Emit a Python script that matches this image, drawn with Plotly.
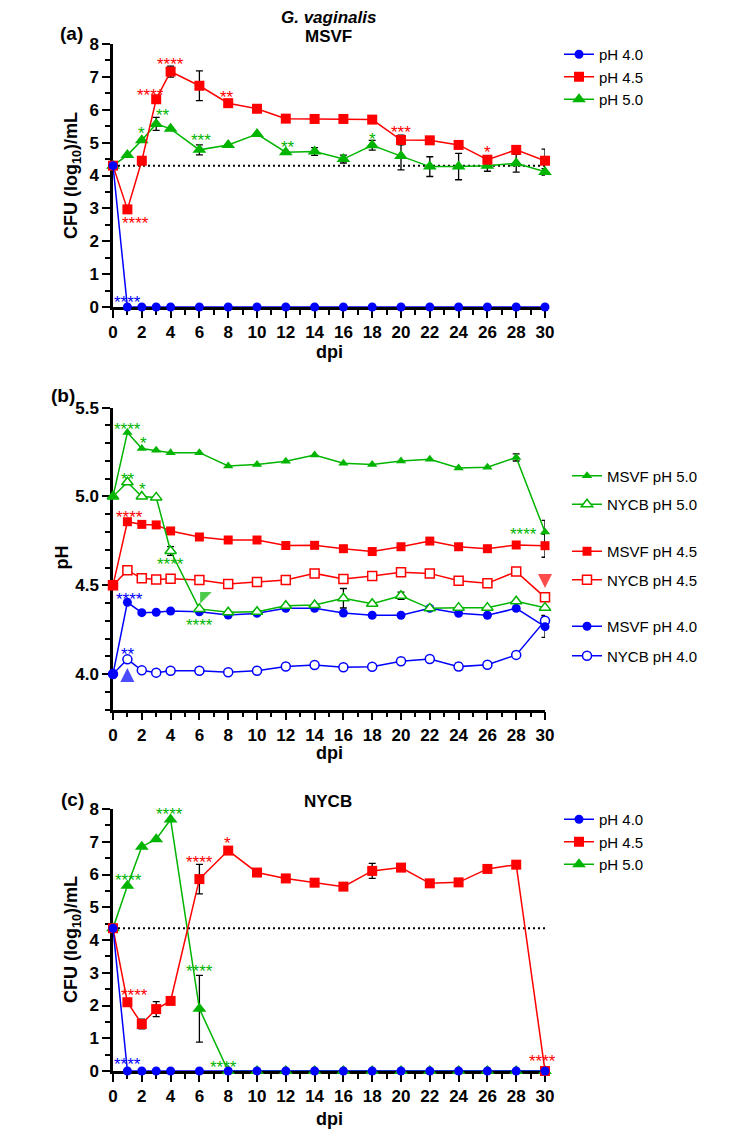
import plotly.graph_objects as go

FONT = "Liberation Sans, Arial, Helvetica, sans-serif"
BLUE = "#0000FF"
RED = "#FF0000"
GREEN = "#00B400"
# the page body has an 8px margin, so the figure is drawn 8px in from the corner
OFF = 8
W, H = 744 - 2 * OFF, 1132 - OFF

# ---------------- data ----------------
days = [0, 1, 2, 3, 4, 6, 8, 10, 12, 14, 16, 18, 20, 22, 24, 26, 28, 30]
x_ticks = list(range(0, 31, 2))

# (a) MSVF, CFU (log10)/mL
a_ph40 = [4.30, 0, 0, 0, 0, 0, 0, 0, 0, 0, 0, 0, 0, 0, 0, 0, 0, 0]
a_ph45 = [4.30, 2.97, 4.45, 6.32, 7.16, 6.73, 6.20, 6.03, 5.73, 5.72, 5.72, 5.70, 5.08, 5.07, 4.93, 4.48, 4.78, 4.45]
a_ph50 = [4.30, 4.62, 5.07, 5.57, 5.42, 4.78, 4.93, 5.26, 4.71, 4.73, 4.50, 4.92, 4.59, 4.27, 4.27, 4.30, 4.37, 4.11]
a_err45 = [0, 0, 0, 0, 0.17, 0.45, 0, 0, 0.08, 0, 0, 0, 0.15, 0, 0, 0, 0.12, 0.35]
a_err50 = [0, 0, 0, 0.20, 0, 0.15, 0, 0, 0, 0.12, 0.12, 0.15, 0.42, 0.30, 0.40, 0.17, 0.27, 0.10]
a_lod = 4.30
a_star_x = [1.02, 1.56, 2.57, 3.96, 7.94, 20.0, 26.0, 2.0, 3.45, 6.09, 12.17, 18.03]
a_star_y = [0.26, 2.67, 6.55, 7.51, 6.50, 5.44, 4.81, 5.39, 5.94, 5.20, 4.98, 5.23]
a_star_t = ["****", "****", "****", "****", "**", "***", "*", "*", "**", "***", "**", "*"]
a_star_c = [BLUE, RED, RED, RED, RED, RED, RED, GREEN, GREEN, GREEN, GREEN, GREEN]

# (b) pH
b_msvf50 = [5.00, 5.36, 5.27, 5.26, 5.247, 5.247, 5.172, 5.18, 5.198, 5.234, 5.187, 5.18, 5.20, 5.21, 5.16, 5.165, 5.22, 4.80]
b_nycb50 = [5.00, 5.08, 5.00, 4.995, 4.693, 4.367, 4.348, 4.351, 4.385, 4.389, 4.427, 4.396, 4.441, 4.37, 4.374, 4.374, 4.41, 4.374]
b_msvf45 = [4.50, 4.858, 4.843, 4.84, 4.806, 4.772, 4.755, 4.755, 4.724, 4.725, 4.706, 4.69, 4.717, 4.749, 4.717, 4.706, 4.727, 4.723]
b_nycb45 = [4.50, 4.584, 4.539, 4.532, 4.537, 4.53, 4.507, 4.518, 4.53, 4.567, 4.535, 4.552, 4.573, 4.567, 4.526, 4.511, 4.577, 4.432]
b_msvf40 = [4.00, 4.404, 4.346, 4.348, 4.355, 4.351, 4.333, 4.342, 4.37, 4.37, 4.344, 4.331, 4.331, 4.37, 4.342, 4.331, 4.37, 4.267]
b_nycb40 = [4.00, 4.083, 4.021, 4.008, 4.019, 4.019, 4.01, 4.019, 4.043, 4.051, 4.038, 4.041, 4.072, 4.085, 4.042, 4.053, 4.108, 4.301]
b_err_msvf50 = [0, 0, 0, 0, 0, 0, 0, 0, 0, 0, 0, 0, 0, 0, 0, 0, 0.02, 0.065]
b_err_nycb50 = [0, 0, 0, 0, 0.025, 0, 0, 0, 0, 0, 0.055, 0, 0.02, 0, 0, 0, 0, 0]
b_err_msvf45 = [0, 0, 0, 0, 0, 0, 0, 0, 0, 0, 0, 0, 0, 0, 0, 0, 0, 0.065]
b_err_nycb45 = [0, 0, 0, 0, 0, 0, 0, 0, 0, 0, 0, 0, 0, 0, 0, 0, 0, 0.02]
b_err_msvf40 = [0, 0, 0, 0, 0, 0, 0, 0, 0, 0, 0, 0, 0, 0, 0, 0, 0, 0.06]
b_err_nycb40 = [0, 0, 0, 0, 0, 0, 0, 0, 0, 0, 0, 0, 0, 0, 0.02, 0.015, 0, 0.03]
b_star_x = [1.0, 2.12, 1.06, 2.06, 1.18, 4.0, 6.04, 1.18, 1.02, 28.5]
b_star_y = [5.397, 5.322, 5.12, 5.06, 4.905, 4.638, 4.295, 4.445, 4.131, 4.811]
b_star_t = ["****", "*", "**", "*", "****", "****", "****", "****", "**", "****"]
b_star_c = [GREEN, GREEN, GREEN, GREEN, RED, GREEN, GREEN, BLUE, BLUE, GREEN]
b_arrow_x = [1.0, 6.32, 30.0]
b_arrow_y = [4.034, 4.44, 4.485]
b_arrow_sym = ["arrow-up", "triangle-nw", "arrow-down"]
b_arrow_size = [14, 13, 14]
b_arrow_c = [BLUE, GREEN, RED]

# (c) NYCB, CFU (log10)/mL
c_ph40 = [4.36, 0, 0, 0, 0, 0, 0, 0, 0, 0, 0, 0, 0, 0, 0, 0, 0, 0]
c_ph45 = [4.36, 2.10, 1.435, 1.89, 2.14, 5.86, 6.73, 6.06, 5.88, 5.75, 5.63, 6.11, 6.21, 5.73, 5.76, 6.17, 6.30, 0.0]
c_ph50 = [4.36, 5.66, 6.85, 7.08, 7.68, 1.90, 0, 0, 0, 0, 0, 0, 0, 0, 0, 0, 0, 0]
c_err45 = [0, 0, 0.15, 0.23, 0, 0.45, 0.08, 0, 0.10, 0, 0, 0.23, 0, 0, 0, 0, 0, 0]
c_err50 = [0, 0, 0, 0, 0, 1.02, 0, 0, 0, 0, 0, 0, 0, 0, 0, 0, 0, 0]
c_lod = 4.36
c_star_x = [1.07, 3.9, 7.94, 6.02, 1.48, 6.02, 1.02, 7.69, 29.85]
c_star_y = [5.93, 7.94, 7.07, 6.49, 2.42, 3.15, 0.31, 0.23, 0.41]
c_star_t = ["****", "****", "*", "****", "****", "****", "****", "****", "****"]
c_star_c = [GREEN, GREEN, RED, RED, RED, GREEN, BLUE, GREEN, RED]

# ---------------- helpers ----------------
def px_x(p):
    return (p - OFF) / W

def px_y(p):
    return 1 - (p - OFF) / H

fig = go.Figure()

def add_err(xa, ya, x, y, err):
    idx = [i for i, e in enumerate(err) if e > 0]
    if not idx:
        return
    fig.add_trace(go.Scatter(
        x=[x[i] for i in idx], y=[y[i] for i in idx], mode="markers",
        marker=dict(size=1, color="rgba(0,0,0,0)"),
        error_y=dict(type="data", array=[err[i] for i in idx], color="black",
                     thickness=1.3, width=3.5),
        xaxis=xa, yaxis=ya, showlegend=False, hoverinfo="skip", cliponaxis=False))

def add_series(xa, ya, x, y, name, color, symbol, size, legend, filled=True, rank=1000, group=None):
    marker = dict(symbol=symbol, size=size,
                  color=color if filled else "white",
                  line=dict(color=color, width=0 if filled else 1.5))
    fig.add_trace(go.Scatter(
        x=x, y=y, mode="lines+markers", name=name,
        line=dict(color=color, width=1.5), marker=marker,
        xaxis=xa, yaxis=ya, legend=legend, legendrank=rank,
        legendgroup=group, cliponaxis=False))

def add_lod(xa, ya, lod):
    fig.add_trace(go.Scatter(
        x=[days[0], days[-1]], y=[lod, lod], mode="lines",
        line=dict(color="black", width=2, dash="2px,3px"),
        xaxis=xa, yaxis=ya, showlegend=False, hoverinfo="skip"))

# ---------------- panel (a) ----------------
add_lod("x", "y", a_lod)
add_err("x", "y", days, a_ph50, a_err50)
add_err("x", "y", days, a_ph45, a_err45)
add_series("x", "y", days, a_ph50, "pH 5.0", GREEN, "triangle-up", 12, "legend", rank=3)
add_series("x", "y", days, a_ph45, "pH 4.5", RED, "square", 10, "legend", rank=2)
add_series("x", "y", days, a_ph40, "pH 4.0", BLUE, "circle", 9, "legend", rank=1)

# ---------------- panel (b) ----------------
add_err("x2", "y2", days, b_msvf50, b_err_msvf50)
add_err("x2", "y2", days, b_nycb50, b_err_nycb50)
add_err("x2", "y2", days, b_msvf45, b_err_msvf45)
add_err("x2", "y2", days, b_nycb45, b_err_nycb45)
add_err("x2", "y2", days, b_msvf40, b_err_msvf40)
add_err("x2", "y2", days, b_nycb40, b_err_nycb40)
add_series("x2", "y2", days, b_nycb40, "NYCB pH 4.0", BLUE, "circle", 9, "legend4", filled=False, rank=2, group="b6")
add_series("x2", "y2", days, b_msvf40, "MSVF pH 4.0", BLUE, "circle", 9, "legend4", rank=1, group="b5")
add_series("x2", "y2", days, b_nycb45, "NYCB pH 4.5", RED, "square", 9, "legend3", filled=False, rank=2, group="b4")
add_series("x2", "y2", days, b_msvf45, "MSVF pH 4.5", RED, "square", 9, "legend3", rank=1, group="b3")
add_series("x2", "y2", days, b_nycb50, "NYCB pH 5.0", GREEN, "triangle-up", 10, "legend2", filled=False, rank=2, group="b2")
add_series("x2", "y2", days, b_msvf50, "MSVF pH 5.0", GREEN, "triangle-up", 9, "legend2", rank=1, group="b1")
fig.add_trace(go.Scatter(
    x=b_arrow_x, y=b_arrow_y, mode="markers",
    marker=dict(symbol=b_arrow_sym, size=b_arrow_size, color=b_arrow_c,
                line=dict(width=0)),
    xaxis="x2", yaxis="y2", showlegend=False, hoverinfo="skip", cliponaxis=False))

# ---------------- panel (c) ----------------
add_lod("x3", "y3", c_lod)
add_err("x3", "y3", days, c_ph50, c_err50)
add_err("x3", "y3", days, c_ph45, c_err45)
add_series("x3", "y3", days, c_ph50, "pH 5.0", GREEN, "triangle-up", 12, "legend5", rank=3)
add_series("x3", "y3", days, c_ph45, "pH 4.5", RED, "square", 10, "legend5", rank=2)
add_series("x3", "y3", days, c_ph40, "pH 4.0", BLUE, "circle", 9, "legend5", rank=1)

# ---------------- annotations ----------------
ann = []

def stars(xref, yref, xs, ys, ts, cs):
    for x, y, t, c in zip(xs, ys, ts, cs):
        ann.append(dict(x=x, y=y, xref=xref, yref=yref, text=t, showarrow=False,
                        xanchor="center", yanchor="middle", yshift=-4,
                        font=dict(family=FONT, size=17, color=c)))

stars("x", "y", a_star_x, a_star_y, a_star_t, a_star_c)
stars("x2", "y2", b_star_x, b_star_y, b_star_t, b_star_c)
stars("x3", "y3", c_star_x, c_star_y, c_star_t, c_star_c)

def label(text, xp, yp, size, angle=0, italic=False):
    ann.append(dict(x=px_x(xp), y=px_y(yp), xref="paper", yref="paper", text=text,
                    showarrow=False, xanchor="center", yanchor="middle", textangle=angle,
                    font=dict(family=FONT, size=size, color="black", weight="bold",
                              style="italic" if italic else "normal")))

label("(a)", 71.7, 33.3, 19)
label("(b)", 62.5, 395.5, 19)
label("(c)", 72.5, 799.5, 19)
label("G. vaginalis", 328, 17, 17, italic=True)
label("MSVF", 328, 36, 17)
label("NYCB", 327.5, 801.7, 17)
label("CFU (log<sub>10</sub>)/mL", 73, 176, 18, angle=-90)
label("pH", 61.5, 558, 18, angle=-90)
label("CFU (log<sub>10</sub>)/mL", 72, 940, 18, angle=-90)
label("dpi", 329, 352, 18)
label("dpi", 329, 753, 18)
label("dpi", 329, 1119, 18)

# ---------------- axes ----------------
tickfont = dict(family=FONT, size=17, color="black", weight="bold")
common = dict(showline=True, linecolor="black", linewidth=2.5, ticks="outside",
              ticklen=8, tickwidth=2, tickcolor="black", showgrid=False,
              zeroline=False, tickfont=tickfont, layer="below traces", fixedrange=True,
              automargin=False)
xdom = [px_x(113), px_x(545)]

def xax(anchor):
    return dict(common, domain=xdom, range=[0, 30], tickvals=x_ticks, anchor=anchor,
                minor=dict(dtick=1, tick0=0, ticks="outside", ticklen=5, tickwidth=2,
                           tickcolor="black"))

layout_axes = dict(
    xaxis=xax("y"),
    xaxis2=xax("y2"),
    xaxis3=xax("y3"),
    yaxis=dict(common, domain=[px_y(307), px_y(44)], range=[0, 8], dtick=1, anchor="x",
               minor=dict(dtick=0.5, tick0=0, ticks="outside", ticklen=5, tickwidth=2,
                          tickcolor="black")),
    yaxis2=dict(common, domain=[px_y(709.6), px_y(407.7)], range=[3.8, 5.5],
                tickvals=[4.0, 4.5, 5.0, 5.5], ticktext=["4.0", "4.5", "5.0", "5.5"],
                anchor="x2",
                minor=dict(dtick=0.1, tick0=3.8, ticks="outside", ticklen=5, tickwidth=2,
                           tickcolor="black")),
    yaxis3=dict(common, domain=[px_y(1071), px_y(809)], range=[0, 8], dtick=1, anchor="x3",
                minor=dict(dtick=0.5, tick0=0, ticks="outside", ticklen=5, tickwidth=2,
                           tickcolor="black")),
)

legfont = dict(family=FONT, size=15, color="black")

def leg(xp, yp, gap=0, order="normal"):
    return dict(x=px_x(xp), y=px_y(yp), xanchor="left", yanchor="top",
                bgcolor="rgba(0,0,0,0)", font=legfont, tracegroupgap=gap,
                itemwidth=30, traceorder=order, itemclick=False, itemdoubleclick=False)

fig.update_layout(
    width=W, height=H, margin=dict(l=0, r=0, t=0, b=0, pad=0, autoexpand=False),
    paper_bgcolor="white", plot_bgcolor="white",
    font=dict(family=FONT, color="black"),
    annotations=ann,
    legend=leg(559, 38),
    legend2=leg(567, 459.5, gap=6, order="grouped"),
    legend3=leg(567, 535, gap=6, order="grouped"),
    legend4=leg(567, 610, gap=7, order="grouped"),
    legend5=leg(559, 803),
    **layout_axes,
)

fig.write_html("out.html")
